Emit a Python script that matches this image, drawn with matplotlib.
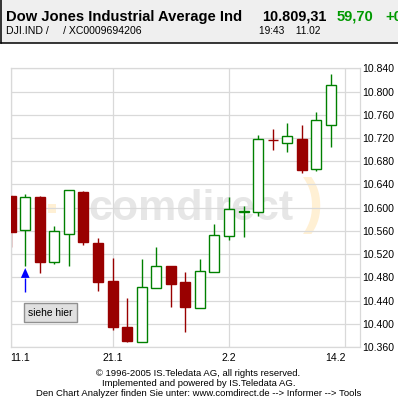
import matplotlib
matplotlib.use("Agg")
import matplotlib.pyplot as plt
from matplotlib.patches import Rectangle, Polygon
from matplotlib.lines import Line2D

# Kursdaten (Tageskerzen) DJI, 11.1. - 11.2.2005
dates = ["11.1", "12.1", "13.1", "14.1", "18.1", "19.1", "20.1", "21.1",
         "24.1", "25.1", "26.1", "27.1", "28.1", "31.1", "1.2", "2.2",
         "3.2", "4.2", "7.2", "8.2", "9.2", "10.2", "11.2"]
opens = [10.620, 10.562, 10.619, 10.507, 10.554, 10.627, 10.539, 10.474,
         10.394, 10.369, 10.462, 10.499, 10.472, 10.428, 10.490, 10.552,
         10.592, 10.593, 10.717, 10.712, 10.718, 10.666, 10.743]
highs = [10.621, 10.623, 10.620, 10.569, 10.631, 10.628, 10.547, 10.513,
         10.444, 10.511, 10.532, 10.499, 10.489, 10.511, 10.572, 10.619,
         10.603, 10.725, 10.735, 10.746, 10.742, 10.765, 10.831]
lows = [10.532, 10.499, 10.487, 10.503, 10.500, 10.536, 10.457, 10.390,
        10.368, 10.369, 10.462, 10.429, 10.386, 10.428, 10.490, 10.544,
        10.550, 10.586, 10.700, 10.696, 10.660, 10.663, 10.704]
closes = [10.558, 10.618, 10.507, 10.559, 10.630, 10.541, 10.472, 10.394,
          10.370, 10.463, 10.499, 10.469, 10.429, 10.491, 10.553, 10.597,
          10.594, 10.718, 10.716, 10.724, 10.665, 10.751, 10.811]

xtick_pos = [0, 7, 15, 23]
xtick_labels = ["11.1", "21.1", "2.2", "14.2"]
ytick_vals = [10.36, 10.40, 10.44, 10.48, 10.52, 10.56, 10.60, 10.64,
              10.68, 10.72, 10.76, 10.80, 10.84]
ytick_labels = ["10.360", "10.400", "10.440", "10.480", "10.520", "10.560",
                "10.600", "10.640", "10.680", "10.720", "10.760", "10.800",
                "10.840"]

# Signalpfeil unter 12.1
arrow_x = 1
arrow_tip = 10.496
arrow_base = 10.479
arrow_stem = 10.455

RED = "#990000"
GREEN = "#008000"
GRID = "#d9d9d9"
FONT = "Liberation Sans"

W, H = 398, 399
fig = plt.figure(figsize=(W / 100, H / 100), dpi=100)
fig.patch.set_facecolor("white")


def fx(x):
    return x / W


def fy(y):
    return 1 - y / H


# Kopfbereich
fig.patches.append(Rectangle((0, fy(43)), 1, 43 / H, transform=fig.transFigure,
                             facecolor="#efefef", edgecolor="none", zorder=0))
fig.lines.append(Line2D([fx(1), 1], [fy(42.5), fy(42.5)], transform=fig.transFigure,
                        color="black", lw=1.1))
fig.lines.append(Line2D([fx(0.8), fx(0.8)], [1, fy(42.5)], transform=fig.transFigure,
                        color="black", lw=1.1))

fig.text(fx(6), fy(20.7), "Dow Jones Industrial Average Ind", fontsize=10.6,
         fontweight="bold", family=FONT, va="baseline")
fig.text(fx(262), fy(20.7), "10.809,31", fontsize=10.4, fontweight="bold",
         family=FONT, va="baseline")
fig.text(fx(337), fy(20.7), "59,70", fontsize=10.6, fontweight="bold",
         family=FONT, va="baseline", color="#009900")
fig.text(fx(385), fy(20.7), "+0,55%", fontsize=10.6, fontweight="bold",
         family=FONT, va="baseline", color="#009900")
fig.text(fx(6), fy(34.3), "DJI.IND /     / XC0009694206", fontsize=7.6,
         family=FONT, va="baseline")
fig.text(fx(259), fy(34.3), "19:43    11.02", fontsize=7.3, family=FONT,
         va="baseline")

ax = fig.add_axes([fx(10.7), fy(347), (360 - 10.7) / W, (347 - 68.3) / H])
ax.set_facecolor("white")

# Wasserzeichen
ax.text(fx(88), fy(220), "comdirect", transform=fig.transFigure, fontsize=31,
        fontweight="bold", family=FONT, color="#e6e6e6", va="baseline",
        ha="left", zorder=0)
ax.text(fx(313), fy(205), ")", transform=fig.transFigure, fontsize=44,
        fontweight="bold", family=FONT, color="#fff0d4", va="center",
        ha="center", zorder=0)
ax.add_patch(Rectangle((fx(47.5), fy(213)), 8.5 / W, 9 / H,
                       transform=fig.transFigure, facecolor="#fff0d4",
                       edgecolor="none", zorder=0))

for y in ytick_vals:
    ax.axhline(y, color=GRID, lw=0.9, zorder=1)
for x in xtick_pos:
    ax.axvline(x, color=GRID, lw=0.9, zorder=1)

# Kerzen
width = 0.69
for i in range(len(dates)):
    o, h, l, c = opens[i], highs[i], lows[i], closes[i]
    col = GREEN if c >= o else RED
    ax.vlines(i, l, h, color=col, lw=1.0, zorder=2)
    if c >= o:
        ax.bar(i, c - o, width=width, bottom=o, facecolor="white",
               edgecolor=col, lw=1.0, zorder=3)
    else:
        ax.bar(i, o - c, width=width, bottom=c, facecolor=col,
               edgecolor=col, lw=1.0, zorder=3)

# Pfeil
ax.vlines(arrow_x, arrow_stem, arrow_base, color="#0000ff", lw=1.0, zorder=4)
ax.add_patch(Polygon([(arrow_x - 0.3, arrow_base), (arrow_x + 0.3, arrow_base),
                      (arrow_x, arrow_tip)], closed=True, facecolor="#0000ff",
                     edgecolor="none", zorder=4))

ax.set_xlim(0, 24)
ax.set_ylim(10.36, 10.84)
ax.set_xticks(xtick_pos)
ax.set_xticklabels(xtick_labels, fontsize=7.6, family=FONT)
ax.set_yticks(ytick_vals)
ax.set_yticklabels(ytick_labels, fontsize=7.6, family=FONT)
ax.yaxis.tick_right()
ax.tick_params(axis="y", length=0, pad=1.5)
ax.tick_params(axis="x", length=0, pad=4)
labels = ax.get_xticklabels()
labels[0].set_ha("left")
labels[-1].set_ha("right")
for s in ax.spines.values():
    s.set_color(GRID)
    s.set_linewidth(0.9)

# Knopf "siehe hier"
fig.patches.append(Rectangle((fx(24.3), fy(322.3)), 52.4 / W, 19 / H,
                             transform=fig.transFigure, facecolor="#e0e0e0",
                             edgecolor="#909090", lw=1.0, zorder=5))
fig.text(fx(50.5), fy(313), "siehe hier", fontsize=7.4, family=FONT,
         ha="center", va="center", zorder=6)

# Fußzeilen
fig.text(fx(198.5), fy(373.3), "\u00a9 1996-2005 IS.Teledata AG, all rights reserved.",
         fontsize=6.8, family=FONT, ha="center", va="center")
fig.text(fx(198.5), fy(383.3), "Implemented and powered by IS.Teledata AG.",
         fontsize=6.8, family=FONT, ha="center", va="center")
fig.text(fx(198.5), fy(393.3),
         "Den Chart Analyzer finden Sie unter: www.comdirect.de --> Informer --> Tools",
         fontsize=6.8, family=FONT, ha="center", va="center")

fig.savefig("out.png", dpi=100)
